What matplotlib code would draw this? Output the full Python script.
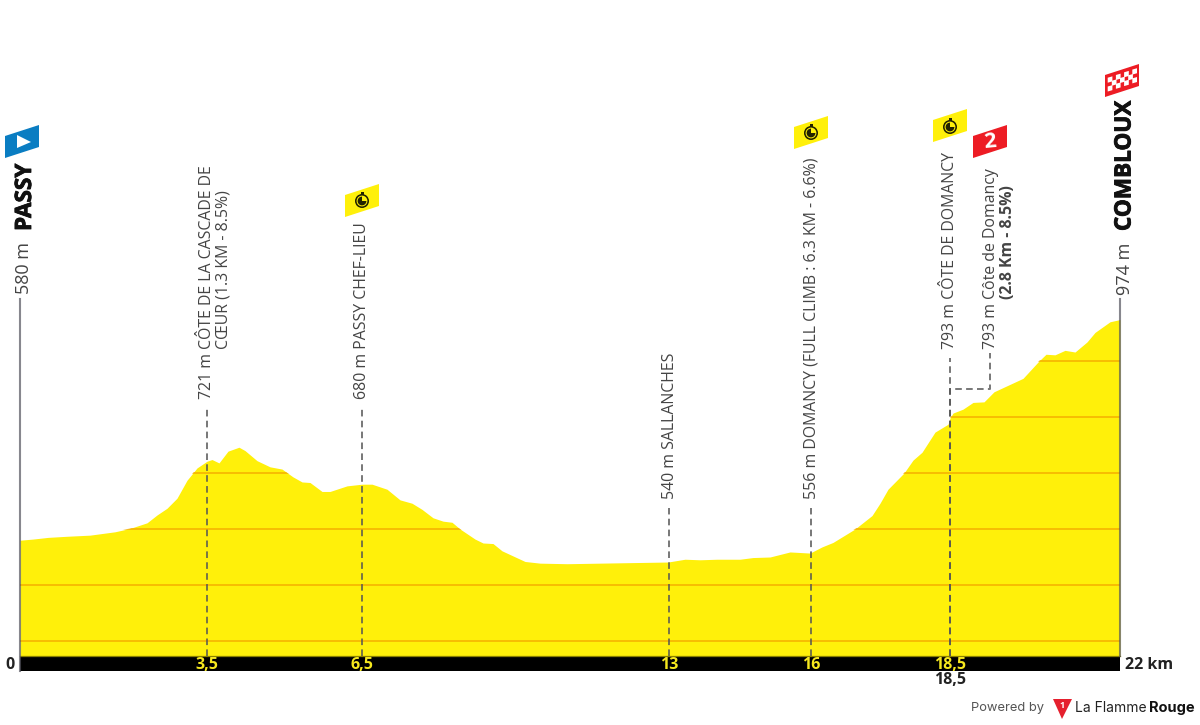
import matplotlib
matplotlib.use("Agg")
import matplotlib.pyplot as plt
import matplotlib.patheffects as pe
from matplotlib.patches import Polygon, Circle, Wedge, Rectangle

plt.rcParams["font.family"] = ["Open Sans", "DejaVu Sans"]

# profile: distance (km) and altitude (m)
km = [0, 0.26, 0.56, 0.94, 1.40, 1.90, 2.20, 2.54, 2.74, 2.94, 3.14, 3.34, 3.54, 3.74, 3.84, 3.98,
      4.16, 4.38, 4.50, 4.74, 5.00, 5.24, 5.46, 5.64, 5.80, 6.04, 6.20, 6.54, 6.84, 7.04, 7.34, 7.60,
      7.84, 8.04, 8.26, 8.46, 8.64, 8.80, 9.10, 9.26, 9.46, 9.64, 10.10, 10.40, 10.94, 11.60, 12.26,
      12.96, 13.30, 13.60, 13.94, 14.40, 14.66, 15.00, 15.40, 15.80, 16.04, 16.26, 16.70, 17.04,
      17.20, 17.36, 17.68, 17.86, 18.04, 18.30, 18.56, 18.60, 18.66, 18.86, 19.06, 19.28, 19.48,
      20.06, 20.38, 20.52, 20.70, 20.90, 21.10, 21.34, 21.50, 21.80, 22]
alt = [580, 582, 585, 587, 589, 595, 601, 611, 625, 637, 655, 687, 709, 721, 724, 718,
       739, 746, 740, 722, 711, 707, 693, 684, 683, 667, 667, 677, 680, 680, 671, 652,
       646, 635, 620, 614, 612, 600, 582, 575, 574, 561, 542, 539, 538, 539, 540,
       541, 546, 545, 546, 546, 549, 550, 559, 557, 568, 576, 600, 624,
       646, 671, 700, 723, 737, 773, 787, 798, 807, 814, 826, 827, 845,
       869, 900, 912, 911, 919, 916, 934, 951, 970, 974]

grid_alt = [400, 500, 600, 700, 800, 900]

mark_km = [3.73, 6.84, 12.98, 15.82, 18.6]
mark_top = [816, 816, 637, 637, 905]
mark_labels = ["3,5", "6,5", "13", "16", "18,5"]

base_alt = 373
bar_alt = 346
axis_top = 1010

YELLOW = "#fff00a"
TEXT = "#444444"

fig = plt.figure(figsize=(12, 7.25), dpi=100)

# main axes: full figure, 50 px per km and 56 px per 100 m
ax = fig.add_axes([0, 0, 1, 1])
ax.set_xlim(-0.4, 23.6)
ax.set_ylim(250, 1544.6)
ax.axis("off")

area = ax.fill_between(km, alt, base_alt, color=YELLOW, lw=0, zorder=1)
clip = Polygon(list(zip(km, alt)) + [(22, base_alt), (0, base_alt)], closed=True, transform=ax.transData)
for g in grid_alt:
    line, = ax.plot([0, 22], [g, g], color="#f5ae00", lw=1.1, zorder=2)
    line.set_clip_path(clip)

ax.fill_between([0, 22], bar_alt, base_alt, color="black", lw=0, zorder=3)
ax.plot([0, 22], [base_alt, base_alt], color="#8a8000", lw=0.9, zorder=3)

for x in [0, 22]:
    ax.plot([x, x], [bar_alt if x == 0 else base_alt, axis_top], color="#55555f", alpha=0.7, lw=1.5, zorder=4)

dash = dict(color="#555555", alpha=0.8, lw=1.4, dashes=(3.4, 2.2), zorder=4)
for x, top in zip(mark_km, mark_top):
    ax.plot([x, x], [base_alt, top], **dash)
# second line of the 18,5 mark, with its offset to the KOM label
ax.plot([18.6, 18.6, 19.4, 19.4], [base_alt, 850, 850, 914], **dash)

for x, lab in zip(mark_km, mark_labels):
    ax.text(x, 358, lab, color="#f6e81e", fontsize=11.5, fontweight="bold", ha="center", va="center", zorder=5)

ax.text(-0.2, 358, "0", color="#222222", fontsize=11.5, fontweight="bold", ha="center", va="center")
ax.text(22.1, 358, "22 km", color="#222222", fontsize=11.5, fontweight="bold", ha="left", va="center")
ax.text(18.6, 331, "18,5", color="#222222", fontsize=11.5, fontweight="bold", ha="center", va="center")

# second axes in picture pixels, for labels, flags and logo
deco = fig.add_axes([0, 0, 1, 1])
deco.set_xlim(0, 1200)
deco.set_ylim(725, 0)
deco.axis("off")
deco.patch.set_alpha(0)


def vtext(x, y, s, size=11.4, weight="normal", color=TEXT, **kw):
    return deco.text(x, y, s, rotation=90, ha="center", va="bottom", fontsize=size, fontweight=weight, color=color,
                     rotation_mode="default", **kw)


heavy = [pe.withStroke(linewidth=0.6, foreground="#111111")]

vtext(24, 294, "580 m", size=13)
vtext(25.5, 231, "PASSY", size=16.2, weight="bold", color="#111111").set_path_effects(heavy)
vtext(1124.5, 295, "974 m", size=13)
vtext(1125, 231, "COMBLOUX", size=16.2, weight="bold", color="#111111").set_path_effects(heavy)

vtext(207, 399, "721 m")
vtext(207, 349, "CÔTE DE LA CASCADE DE")
vtext(223.5, 349, "CŒUR (1.3 KM - 8.5%)")
vtext(362, 399, "680 m PASSY CHEF-LIEU")
vtext(670, 499, "540 m SALLANCHES")
vtext(812, 499, "556 m DOMANCY (FULL CLIMB : 6.3 KM - 6.6%)")
vtext(950, 349, "793 m CÔTE DE DOMANCY")
vtext(991, 349, "793 m")
vtext(991, 299, "Côte de Domancy")
vtext(1008.5, 299, "(2.8 Km - 8.5%)", weight="bold")


def flag(x, y, color):
    deco.add_patch(Polygon([(x, y + 11), (x + 34, y), (x + 34, y + 22), (x, y + 33)], closed=True, color=color, lw=0))


def stopwatch(x, y):
    deco.add_patch(Rectangle((x - 1.5, y - 9), 3, 3, color="#222200", lw=0))
    deco.add_patch(Circle((x, y), 7, color="#222200", lw=0))
    deco.add_patch(Circle((x, y), 5.4, color=YELLOW, lw=0))
    deco.add_patch(Wedge((x, y), 4.4, 0, 270, color="#222200", lw=0))


flag(5, 125, "#0a7dc2")
deco.add_patch(Polygon([(17, 135), (17, 148), (31, 142)], closed=True, color="white", lw=0))

flag(345, 184, YELLOW)
stopwatch(362, 201)
flag(794, 116, YELLOW)
stopwatch(811, 133)
flag(933, 109, YELLOW)
stopwatch(950, 127)

flag(973, 125, "#ed1c24")
deco.text(990, 142, "2", color="white", fontsize=15.5, fontweight="bold", ha="center", va="center", rotation=5)

flag(1105, 64, "#ed1c24")
for i in range(7):
    for j in range(3):
        if (i + j) % 2 == 0:
            x0 = 1108 + i * 4.1
            y0 = 78 + j * 4.4 - 0.33 * (x0 - 1108)
            deco.add_patch(Polygon([(x0 - 0.3, y0 - 0.3), (x0 + 4.4, y0 - 1.65), (x0 + 4.4, y0 + 3.35), (x0 - 0.3, y0 + 4.7)],
                                   closed=True, color="white", lw=0))

# footer
deco.text(1044, 708, "Powered by", color="#555555", fontsize=9.3, family="Inter", ha="right", va="center")
deco.add_patch(Polygon([(1053, 699), (1072, 699), (1062, 719)], closed=True, color="#e5202e", lw=0))
deco.text(1062, 705, "1", color="white", fontsize=6.5, fontweight="bold", ha="center", va="center")
deco.text(1075, 708, "La Flamme", color="#222222", fontsize=10, family="Inter", ha="left", va="center")
deco.text(1149, 708, "Rouge", color="#111111", fontsize=10.5, family="Inter", fontweight="bold", ha="left", va="center")

fig.savefig("out.png", dpi=100)
